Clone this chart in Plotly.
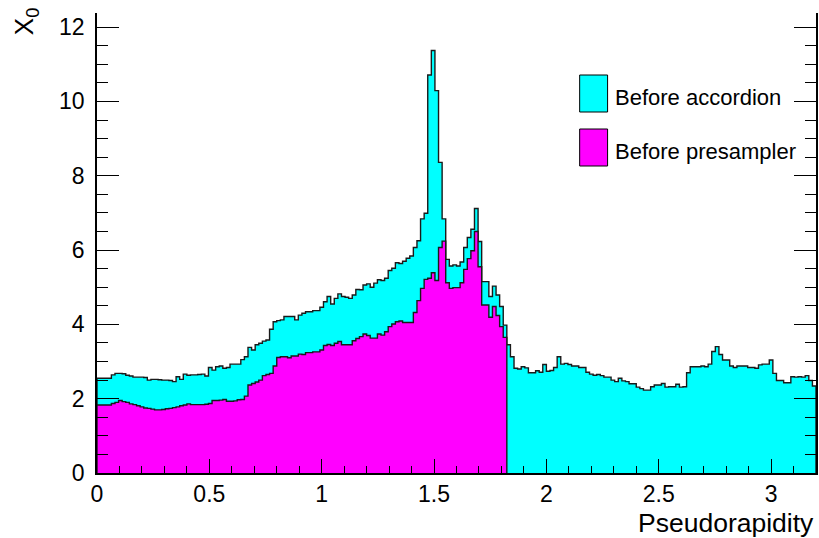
import plotly.graph_objects as go

# ---------------- data ----------------
BIN_WIDTH = 0.016
X_RANGE = [0.0, 3.2]
Y_RANGE = [0.0, 12.38]

before_accordion = [
    2.55, 2.55, 2.55, 2.55, 2.64, 2.68, 2.68, 2.67, 2.63, 2.61,
    2.58, 2.58, 2.58, 2.57, 2.50, 2.52, 2.52, 2.51, 2.50, 2.50,
    2.49, 2.46, 2.59, 2.52, 2.66, 2.63, 2.64, 2.64, 2.65, 2.66,
    2.61, 2.84, 2.77, 2.86, 2.88, 2.82, 2.84, 2.93, 2.93, 2.93,
    3.05, 3.13, 3.38, 3.31, 3.45, 3.49, 3.55, 3.58, 3.87, 4.07,
    4.10, 4.12, 4.21, 4.21, 4.21, 4.12, 4.25, 4.30, 4.34, 4.34,
    4.37, 4.37, 4.46, 4.61, 4.75, 4.55, 4.70, 4.82, 4.75, 4.73,
    4.70, 4.79, 4.94, 4.93, 5.06, 5.09, 5.00, 5.11, 5.20, 5.18,
    5.24, 5.45, 5.51, 5.66, 5.64, 5.70, 5.78, 5.84, 6.07, 6.25,
    6.84, 6.99, 10.71, 11.37, 10.29, 8.36, 6.84, 5.75, 5.57, 5.60,
    5.57, 5.68, 6.07, 6.34, 6.56, 7.12, 6.23, 5.15, 5.15, 4.75,
    5.03, 4.79, 4.48, 3.98, 3.45, 3.13, 2.82, 2.80, 2.86, 2.83,
    2.70, 2.70, 2.75, 2.71, 2.92, 2.74, 2.76, 2.84, 3.13, 2.93,
    2.95, 2.92, 2.88, 2.88, 2.84, 2.84, 2.71, 2.66, 2.63, 2.65,
    2.62, 2.58, 2.58, 2.50, 2.46, 2.55, 2.48, 2.46, 2.40, 2.40,
    2.31, 2.27, 2.23, 2.23, 2.32, 2.37, 2.37, 2.41, 2.31, 2.32,
    2.32, 2.39, 2.31, 2.32, 2.70, 2.86, 2.86, 2.86, 2.88, 2.86,
    2.93, 3.27, 3.40, 3.19, 3.04, 3.04, 2.88, 2.84, 2.88, 2.88,
    2.88, 2.84, 2.84, 2.82, 2.91, 2.93, 2.93, 3.04, 2.68, 2.49,
    2.49, 2.43, 2.43, 2.59, 2.58, 2.59, 2.58, 2.62, 2.49, 2.34,
]

before_presampler = [
    1.83, 1.83, 1.83, 1.83, 1.87, 1.90, 1.95, 1.92, 1.90, 1.86,
    1.84, 1.81, 1.78, 1.75, 1.74, 1.72, 1.70, 1.70, 1.71, 1.73,
    1.74, 1.76, 1.78, 1.81, 1.83, 1.86, 1.84, 1.84, 1.84, 1.84,
    1.85, 1.87, 1.95, 1.95, 1.96, 1.98, 1.93, 1.93, 1.94, 1.97,
    1.98, 2.07, 2.37, 2.41, 2.45, 2.50, 2.62, 2.65, 2.68, 2.88,
    3.11, 3.13, 3.13, 3.10, 3.15, 3.15, 3.20, 3.19, 3.24, 3.24,
    3.26, 3.26, 3.31, 3.43, 3.46, 3.43, 3.49, 3.54, 3.45, 3.45,
    3.45, 3.56, 3.62, 3.67, 3.74, 3.70, 3.63, 3.63, 3.74, 3.71,
    3.80, 3.94, 4.01, 4.07, 4.09, 4.05, 4.05, 4.05, 4.32, 4.64,
    4.97, 5.21, 5.24, 5.39, 5.18, 6.07, 6.24, 5.12, 4.97, 4.99,
    4.99, 5.12, 5.48, 5.77, 5.98, 6.50, 5.55, 4.52, 4.52, 4.19,
    4.48, 4.24, 3.94, 3.65,
]

series_names = ["Before accordion", "Before presampler"]
series_values = [before_accordion, before_presampler]
series_colors = ["#00FFFF", "#FF00FF"]

x_title = "Pseudorapidity"
y_title = "X<sub>0</sub>"

FONT = "Liberation Sans, Arial, sans-serif"

# ---------------- layout geometry (pixels) ----------------
W, H = 819, 538
ML, MR, MT, MB = 97, 1, 13, 65
PW = W - ML - MR
PH = H - MT - MB


def px2paper_x(px):
    return (px - ML) / PW


def px2paper_y(py):
    return (H - MB - py) / PH


def step_xy(values):
    edges = [round(BIN_WIDTH * i, 6) for i in range(len(values) + 1)]
    xs = [edges[0]] + edges[:-1] + [edges[-1], edges[-1]]
    ys = [0.0] + list(values) + [values[-1], 0.0]
    return xs, ys


fig = go.Figure()
for name, vals, col in zip(series_names, series_values, series_colors):
    xs, ys = step_xy(vals)
    fig.add_trace(go.Scatter(
        x=xs, y=ys, name=name, mode="lines",
        line=dict(shape="hv", color="#1a1a1a", width=1.4),
        fill="tozeroy", fillcolor=col, showlegend=False,
        hoverinfo="skip",
    ))

axis_common = dict(
    showgrid=False, zeroline=False, showline=True, linecolor="black",
    linewidth=1.5, ticks="inside", tickcolor="black", tickwidth=1,
    tickfont=dict(family=FONT, size=23, color="black"),
)

fig.update_xaxes(
    range=X_RANGE, tick0=0, dtick=0.5, ticklen=14,
    minor=dict(dtick=0.1, tick0=0, ticklen=7, ticks="inside", tickcolor="black"),
    ticklabelstandoff=0,
    **axis_common,
)
fig.update_yaxes(
    range=Y_RANGE, tick0=0, dtick=2, ticklen=22, mirror="ticks",
    minor=dict(dtick=0.5, tick0=0, ticklen=11, ticks="inside", tickcolor="black"),
    ticklabelstandoff=6,
    **axis_common,
)

annotations = [
    dict(text=x_title, xref="paper", yref="paper", x=1.0, xanchor="right",
         y=px2paper_y(523), yanchor="middle", showarrow=False,
         font=dict(family=FONT, size=26.5, color="black")),
    dict(text=y_title, xref="paper", yref="paper", x=px2paper_x(25),
         xanchor="center", y=px2paper_y(22), yanchor="middle", textangle=-90,
         showarrow=False, font=dict(family=FONT, size=26, color="black")),
]

shapes = []
legend_rows = [(75, 112), (129, 166)]
for (y0, y1), name, col in zip(legend_rows, series_names, series_colors):
    shapes.append(dict(type="rect", xref="paper", yref="paper",
                       x0=px2paper_x(581), x1=px2paper_x(609),
                       y0=px2paper_y(y1), y1=px2paper_y(y0),
                       fillcolor=col, line=dict(color="black", width=1)))
    annotations.append(dict(text=name, xref="paper", yref="paper",
                            x=px2paper_x(614), xanchor="left",
                            y=px2paper_y((y0 + y1) / 2 + 4), yanchor="middle",
                            showarrow=False,
                            font=dict(family=FONT, size=22, color="black")))

fig.update_layout(
    width=W, height=H,
    margin=dict(l=ML, r=MR, t=MT, b=MB),
    paper_bgcolor="white", plot_bgcolor="white",
    showlegend=False,
    annotations=annotations, shapes=shapes,
)

fig.write_html(
    "out.html",
    config={"displayModeBar": False},
    post_script="document.body.style.margin='0px';document.body.style.overflow='hidden';",
)
